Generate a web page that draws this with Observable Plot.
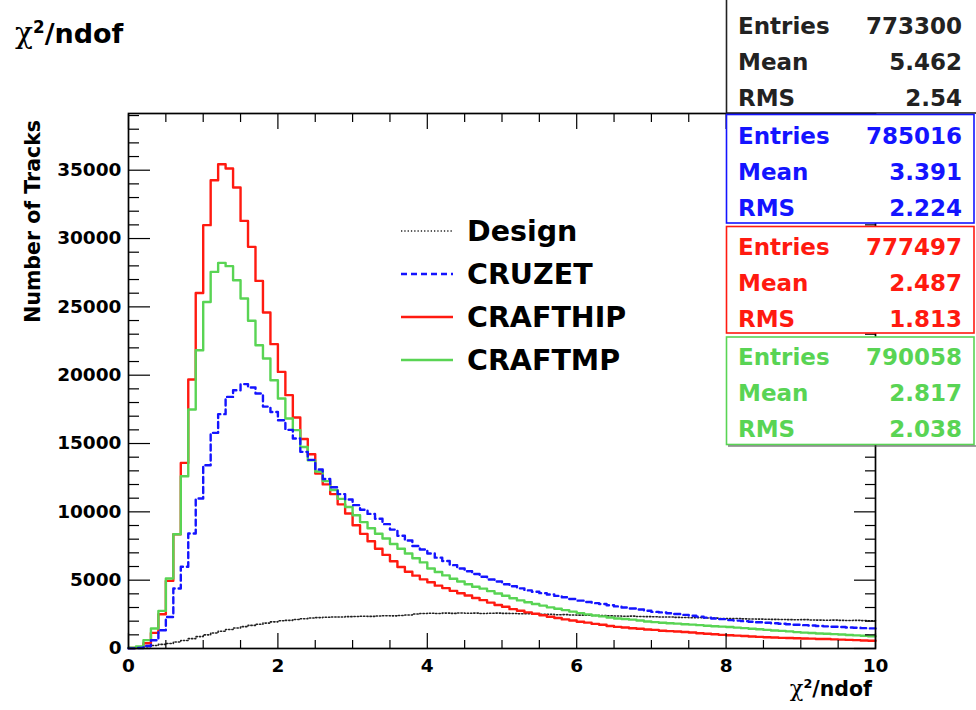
<!DOCTYPE html>
<html>
<head>
<meta charset="utf-8">
<script src="https://cdn.jsdelivr.net/npm/d3@7"></script>
<script src="https://cdn.jsdelivr.net/npm/@observablehq/plot@0.6"></script>
<style>
  html, body { margin: 0; padding: 0; background: #fff; }
  #wrap { position: relative; width: 976px; height: 710px; overflow: hidden; }
  #wrap svg { display: block; }
  #overlay { position: absolute; left: 0; top: 0; pointer-events: none; }
</style>
</head>
<body>
<div id="wrap"></div>
<script>
// chi2/ndof histograms: 100 bins of width 0.1 from 0 to 10
const binLow = 0;
const binWidth = 0.1;

const design = [
  20, 70, 140, 220, 300, 370, 480, 590, 720, 870,
  1000, 1130, 1260, 1390, 1500, 1600, 1690, 1780, 1860, 1950,
  2030, 2060, 2120, 2180, 2230, 2260, 2290, 2310, 2300, 2330,
  2340, 2360, 2350, 2380, 2400, 2390, 2420, 2450, 2520, 2560,
  2580, 2560, 2590, 2570, 2600, 2580, 2590, 2560, 2580, 2590,
  2570, 2560, 2540, 2550, 2520, 2500, 2510, 2470, 2480, 2450,
  2440, 2430, 2410, 2420, 2390, 2380, 2360, 2370, 2340, 2330,
  2320, 2300, 2310, 2280, 2270, 2250, 2260, 2230, 2220, 2200,
  2190, 2200, 2170, 2160, 2150, 2140, 2130, 2120, 2110, 2100,
  2110, 2090, 2080, 2070, 2080, 2060, 2050, 2060, 2040, 2030
];

const cruzet = [
  10, 40, 180, 600, 1340, 2310, 4390, 5980, 8410, 10980,
  13410, 15780, 17150, 18410, 18900, 19350, 19100, 18660, 17700, 17310,
  16700, 16000, 15370, 14390, 13800, 13100, 12400, 11800, 11300, 10900,
  10490, 10150, 9850, 9500, 9100, 8700, 8250, 7900, 7500, 7250,
  6950, 6650, 6400, 6100, 5850, 5650, 5450, 5250, 5050, 4900,
  4700, 4550, 4400, 4250, 4150, 4050, 3950, 3850, 3750, 3620,
  3500, 3400, 3320, 3260, 3160, 3080, 3000, 2930, 2850, 2760,
  2680, 2640, 2580, 2520, 2460, 2400, 2330, 2260, 2200, 2150,
  2080, 2040, 2000, 1960, 1920, 1880, 1850, 1810, 1770, 1740,
  1710, 1680, 1650, 1620, 1590, 1570, 1540, 1520, 1490, 1470
];

const crafthip = [
  40, 100, 380, 1140, 2510, 4950, 8360, 13580, 19680, 26020,
  30980, 34270, 35440, 35120, 33730, 31290, 29390, 26900, 24590, 22270,
  20240, 18540, 16900, 15330, 14220, 12800, 12010, 11300, 10550, 9880,
  9020, 8390, 7850, 7300, 6850, 6380, 5960, 5620, 5330, 5060,
  4850, 4600, 4420, 4220, 4040, 3880, 3700, 3540, 3360, 3180,
  3050, 2880, 2760, 2640, 2540, 2430, 2320, 2230, 2130, 2050,
  1960, 1890, 1800, 1740, 1650, 1580, 1540, 1480, 1440, 1390,
  1360, 1300, 1270, 1240, 1210, 1170, 1120, 1080, 1040, 1000,
  970, 940, 910, 880, 850, 820, 800, 780, 770, 750,
  730, 720, 700, 690, 670, 650, 630, 610, 590, 570
];

const craftmp = [
  50, 150, 610, 1460, 2750, 5120, 8360, 12610, 17490, 21830,
  25360, 27560, 28220, 27980, 26950, 25610, 23980, 22190, 21220, 19630,
  18290, 16830, 15980, 14750, 13780, 12950, 12250, 11600, 10950, 10350,
  9750, 9250, 8800, 8400, 8050, 7650, 7300, 6950, 6600, 6300,
  5850, 5600, 5350, 5100, 4900, 4700, 4520, 4380, 4200, 4020,
  3860, 3680, 3520, 3380, 3260, 3140, 3010, 2910, 2810, 2700,
  2590, 2500, 2420, 2350, 2270, 2200, 2160, 2110, 2050, 1980,
  1930, 1880, 1850, 1820, 1780, 1750, 1710, 1670, 1630, 1600,
  1570, 1530, 1490, 1450, 1410, 1360, 1320, 1290, 1250, 1200,
  1160, 1130, 1100, 1080, 1050, 1020, 990, 960, 930, 900
];

const seriesNames = ["Design", "CRUZET", "CRAFTHIP", "CRAFTMP"];
const entries = [773300, 785016, 777497, 790058];
const means = [5.462, 3.391, 2.487, 2.817];
const rmsValues = [2.54, 2.224, 1.813, 2.038];
const statLabels = ["Entries", "Mean", "RMS"];

const xMajorTicks = [0, 2, 4, 6, 8, 10];
const xMinorTicks = [0.5, 1, 1.5, 2.5, 3, 3.5, 4.5, 5, 5.5, 6.5, 7, 7.5, 8.5, 9, 9.5];
const yMajorTicks = [0, 5000, 10000, 15000, 20000, 25000, 30000, 35000];
const yMinorTicks = [1000, 2000, 3000, 4000, 6000, 7000, 8000, 9000, 11000, 12000, 13000, 14000,
  16000, 17000, 18000, 19000, 21000, 22000, 23000, 24000, 26000, 27000, 28000, 29000,
  31000, 32000, 33000, 34000, 36000, 37000, 38000, 39000];

const yTitle = "Number of Tracks";
const xTitle = "/ndof";

// styles
const colors = ["#222222", "#1414ff", "#ff1a10", "#59d454"];
const dashes = ["1.3,2", "6,4", null, null];
const widths = [1.6, 2.4, 2.4, 2.4];
const FONT = "DejaVu Sans, sans-serif";

// histogram outline: one point per lower bin edge plus the upper edge of the last bin
function steps(values, name) {
  const rows = values.map((v, i) => ({x: binLow + i * binWidth, y: v, series: name}));
  rows.push({x: binLow + values.length * binWidth, y: values[values.length - 1], series: name});
  return rows;
}
const histos = [design, cruzet, crafthip, craftmp].map((v, i) => steps(v, seriesNames[i]));
const drawOrder = [0, 2, 3, 1];

const fmt = d => String(d);

const chart = Plot.plot({
  width: 976,
  height: 710,
  marginLeft: 128,
  marginRight: 101,
  marginTop: 113,
  marginBottom: 62,
  style: {fontFamily: FONT, fontWeight: "bold", fontSize: "18.5px", background: "#fff", color: "#000"},
  x: {domain: [0, 10]},
  y: {domain: [0, 39150]},
  marks: [
    ...drawOrder.map(i => Plot.line(histos[i], {
      x: "x", y: "y", curve: "step-after",
      stroke: colors[i], strokeWidth: widths[i], strokeDasharray: dashes[i]
    })),
    Plot.frame({stroke: "#000", strokeWidth: 1.7}),
    // inward ticks on all four sides
    Plot.axisX(xMinorTicks, {anchor: "bottom", tickSize: -8, fill: "none", strokeWidth: 1.2}),
    Plot.axisX(xMajorTicks, {anchor: "bottom", tickSize: -15, fill: "none", strokeWidth: 1.2}),
    Plot.axisX(xMinorTicks, {anchor: "top", tickSize: -8, fill: "none", strokeWidth: 1.2}),
    Plot.axisX(xMajorTicks, {anchor: "top", tickSize: -15, fill: "none", strokeWidth: 1.2}),
    Plot.axisY(yMinorTicks, {anchor: "left", tickSize: -11, fill: "none", strokeWidth: 1.2}),
    Plot.axisY(yMajorTicks, {anchor: "left", tickSize: -22, fill: "none", strokeWidth: 1.2}),
    Plot.axisY(yMinorTicks, {anchor: "right", tickSize: -11, fill: "none", strokeWidth: 1.2}),
    Plot.axisY(yMajorTicks, {anchor: "right", tickSize: -22, fill: "none", strokeWidth: 1.2}),
    // tick labels
    Plot.axisX(xMajorTicks, {anchor: "bottom", tickSize: 0, tickPadding: 10, tickFormat: fmt, label: null}),
    Plot.axisY(yMajorTicks, {anchor: "left", tickSize: 0, tickPadding: 7, tickFormat: fmt, label: null})
  ]
});

const wrap = document.getElementById("wrap");
wrap.appendChild(chart);

// titles, legend and statistics boxes
const ov = d3.select(wrap).append("svg")
  .attr("id", "overlay")
  .attr("width", 976).attr("height", 710)
  .attr("font-family", FONT).attr("font-weight", "bold");

function chiText(g, x, y, size, anchor) {
  const t = g.append("text").attr("x", x).attr("y", y).attr("font-size", size).attr("text-anchor", anchor);
  t.append("tspan").attr("font-family", "DejaVu Serif, serif").attr("font-weight", "normal")
    .attr("font-size", size * 1.1).text("χ");
  t.append("tspan").attr("font-size", size * 0.62).attr("dy", -size * 0.38).text("2");
  t.append("tspan").attr("dy", size * 0.38).text(xTitle);
}
chiText(ov, 15, 43, 27, "start");
chiText(ov, 872, 696, 20.5, "end");

ov.append("text")
  .attr("transform", "translate(40,120) rotate(-90)")
  .attr("text-anchor", "end")
  .attr("font-size", 20.5)
  .text(yTitle);

// legend
const legend = ov.append("g");
seriesNames.forEach((name, i) => {
  const cy = 231 + 43 * i;
  legend.append("line")
    .attr("x1", 401).attr("x2", 453).attr("y1", cy).attr("y2", cy)
    .attr("stroke", colors[i]).attr("stroke-width", widths[i])
    .attr("stroke-dasharray", dashes[i]);
  legend.append("text")
    .attr("x", 467).attr("y", cy + 10.3)
    .attr("font-size", 28.5)
    .text(name);
});

// statistics boxes
const boxTop = [-5, 114.5, 226.5, 337];
const boxBottom = [113, 223, 333, 444.5];
const firstRow = [26, 136, 247, 357];
const stats = ov.append("g");
seriesNames.forEach((name, i) => {
  stats.append("rect")
    .attr("x", 726.5).attr("y", boxTop[i])
    .attr("width", i === 0 ? 260 : 247.5).attr("height", boxBottom[i] - boxTop[i])
    .attr("fill", "#fff").attr("stroke", colors[i]).attr("stroke-width", 1.6);
  const vals = [entries[i], means[i], rmsValues[i]];
  statLabels.forEach((lab, r) => {
    const cy = firstRow[i] + 35.7 * r + 8.3;
    stats.append("text").attr("x", 738).attr("y", cy).attr("font-size", 23)
      .attr("fill", colors[i]).text(lab);
    stats.append("text").attr("x", 962).attr("y", cy).attr("font-size", 23)
      .attr("text-anchor", "end").attr("fill", colors[i]).text(String(vals[r]));
  });
});
stats.append("line")
  .attr("x1", 728).attr("x2", 976).attr("y1", 446).attr("y2", 446)
  .attr("stroke", "#444").attr("stroke-width", 1.2);
</script>
</body>
</html>
